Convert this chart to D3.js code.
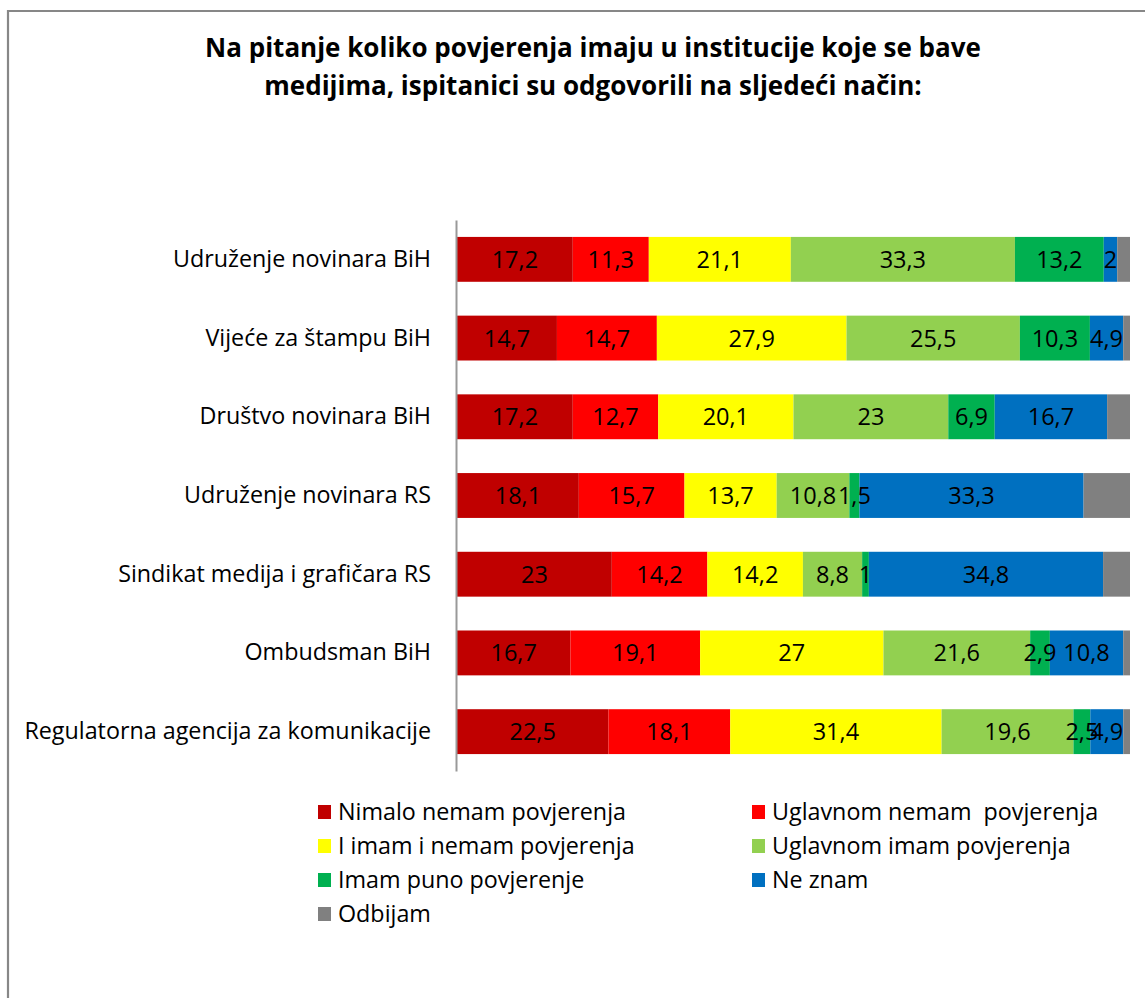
<!DOCTYPE html>
<meta charset="utf-8">
<script src="https://d3js.org/d3.v7.min.js"></script>
<style>
  body { margin: 0; background: #fff; }
  text { font-family: "Open Sans", "Noto Sans", sans-serif; }
</style>
<div id="my_dataviz"></div>
<script>

// institutions, top to bottom
var institutions = [
  "Udruženje novinara BiH",
  "Vijeće za štampu BiH",
  "Društvo novinara BiH",
  "Udruženje novinara RS",
  "Sindikat medija i grafičara RS",
  "Ombudsman BiH",
  "Regulatorna agencija za komunikacije"
];

// answer categories (legend order)
var answers = [
  "Nimalo nemam povjerenja",
  "Uglavnom nemam  povjerenja",
  "I imam i nemam povjerenja",
  "Uglavnom imam povjerenja",
  "Imam puno povjerenje",
  "Ne znam",
  "Odbijam"
];

var colors = ["#C00000", "#FF0000", "#FFFF00", "#92D050", "#00B050", "#0070C0", "#808080"];

// values per answer, one per institution
var nimalo    = [17.2, 14.7, 17.2, 18.1, 23.0, 16.7, 22.5];
var uglNemam  = [11.3, 14.7, 12.7, 15.7, 14.2, 19.1, 18.1];
var iImamI    = [21.1, 27.9, 20.1, 13.7, 14.2, 27.0, 31.4];
var uglImam   = [33.3, 25.5, 23.0, 10.8,  8.8, 21.6, 19.6];
var puno      = [13.2, 10.3,  6.9,  1.5,  1.0,  2.9,  2.5];
var neZnam    = [ 2.0,  4.9, 16.7, 33.3, 34.8, 10.8,  4.9];
var odbijam   = [ 1.9,  1.0,  3.4,  6.9,  4.0,  1.0,  1.0];   // not labelled in the picture, read from widths

var series = [nimalo, uglNemam, iImamI, uglImam, puno, neZnam, odbijam];
var showLabel = [true, true, true, true, true, true, false];

var W = 1145, H = 998;
var svg = d3.select("#my_dataviz")
  .append("svg")
    .attr("width", W)
    .attr("height", H);

// chart frame
svg.append("path")
  .attr("d", "M8," + H + "V11H" + W)
  .attr("fill", "none")
  .attr("stroke", "#878787")
  .attr("stroke-width", 2.2);

// title
var title = svg.append("text")
  .attr("text-anchor", "middle")
  .attr("font-weight", "bold")
  .attr("font-size", 26)
  .attr("fill", "#000");
title.append("tspan").attr("x", 593).attr("y", 57)
  .text("Na pitanje koliko povjerenja imaju u institucije koje se bave");
title.append("tspan").attr("x", 593).attr("y", 95)
  .text("medijima, ispitanici su odgovorili na sljedeći način:");

// build rows: each row normalised to 100 %
var rows = institutions.map(function(name, i) {
  var vals = series.map(function(s) { return s[i]; });
  var total = d3.sum(vals);
  var x0 = 0;
  var segs = vals.map(function(v, k) {
    var seg = {k: k, v: v, x0: x0 / total * 100, x1: (x0 + v) / total * 100};
    x0 += v;
    return seg;
  });
  return {name: name, segs: segs};
});

var x = d3.scaleLinear().domain([0, 100]).range([457, 1130]);
var y = d3.scaleBand().domain(institutions).range([220, 771]).paddingInner(0.43).paddingOuter(0.215);

var g = svg.selectAll(".row")
  .data(rows)
  .enter()
  .append("g")
    .attr("class", "row")
    .attr("transform", function(d) { return "translate(0," + y(d.name) + ")"; });

g.selectAll("rect")
  .data(function(d) { return d.segs; })
  .enter()
  .append("rect")
    .attr("x", function(d) { return x(d.x0); })
    .attr("width", function(d) { return x(d.x1) - x(d.x0); })
    .attr("y", 0)
    .attr("height", y.bandwidth())
    .attr("fill", function(d) { return colors[d.k]; });

g.selectAll(".lbl")
  .data(function(d) { return d.segs.filter(function(s) { return showLabel[s.k]; }); })
  .enter()
  .append("text")
    .attr("class", "lbl")
    .attr("x", function(d) { return (x(d.x0) + x(d.x1)) / 2; })
    .attr("y", y.bandwidth() / 2)
    .attr("dy", "0.36em")
    .attr("text-anchor", "middle")
    .attr("font-size", 23.5)
    .attr("fill", "#000")
    .text(function(d) { return String(d.v).replace(".", ","); });

// category axis
var yAxis = svg.append("g")
  .attr("transform", "translate(456,0)")
  .call(d3.axisLeft(y).tickSize(0).tickPadding(25));
yAxis.select(".domain").attr("stroke", "#999").attr("stroke-width", 2);
yAxis.selectAll("text")
  .attr("font-size", 23.3)
  .attr("fill", "#000")
  .style("font-family", "'Open Sans', 'Noto Sans', sans-serif");

// legend
var legendPos = [
  [318, 812], [752, 812],
  [318, 846], [752, 846],
  [318, 880], [752, 880],
  [318, 914]
];
var leg = svg.selectAll(".leg")
  .data(answers)
  .enter()
  .append("g")
    .attr("class", "leg")
    .attr("transform", function(d, i) { return "translate(" + legendPos[i][0] + "," + legendPos[i][1] + ")"; });
leg.append("rect")
  .attr("x", 0).attr("y", -7)
  .attr("width", 13).attr("height", 14)
  .attr("fill", function(d, i) { return colors[i]; });
leg.append("text")
  .attr("x", 20)
  .attr("dy", "0.35em")
  .attr("font-size", 23.3)
  .attr("fill", "#000")
  .style("white-space", "pre")
  .text(function(d) { return d; });

</script>
